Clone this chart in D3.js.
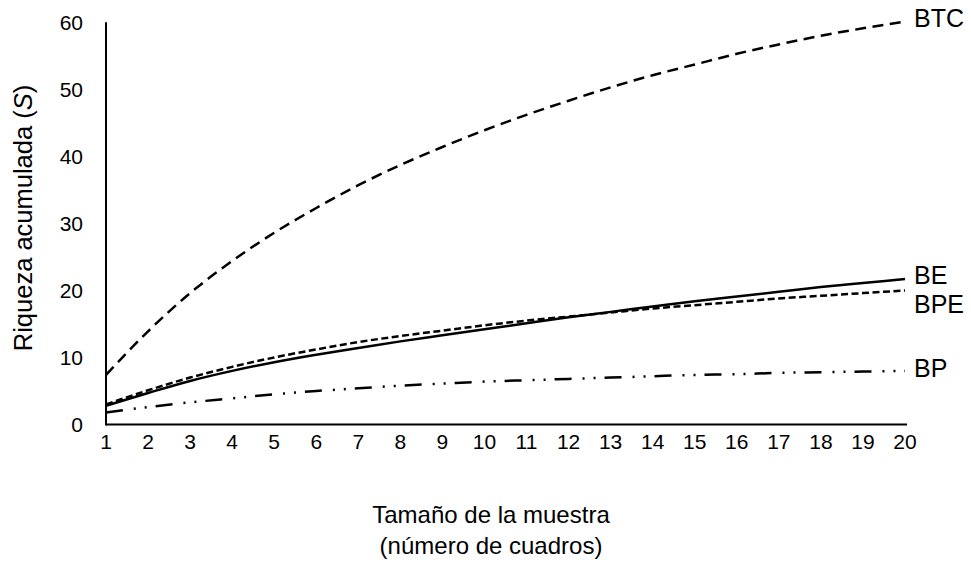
<!DOCTYPE html>
<html>
<head>
<meta charset="utf-8">
<script src="https://cdn.jsdelivr.net/npm/d3@7"></script>
<style>
  html, body { margin: 0; padding: 0; background: #fff; }
  svg { display: block; font-family: Arial, "Liberation Sans", sans-serif; }
</style>
</head>
<body>
<svg id="chart" width="971" height="562"></svg>
<script>
// Sample sizes (number of quadrats)
const sampleSizes = [1, 2, 3, 4, 5, 6, 7, 8, 9, 10, 11, 12, 13, 14, 15, 16, 17, 18, 19, 20];

// Accumulated richness per forest type
const btcValues = [7.4, 13.9, 19.6, 24.4, 28.6, 32.3, 35.7, 38.7, 41.4, 43.9, 46.2, 48.3, 50.3, 52.1, 53.7, 55.3, 56.7, 58.0, 59.1, 60.1];
const beValues  = [2.8, 4.7, 6.5, 8.0, 9.3, 10.4, 11.4, 12.4, 13.3, 14.2, 15.1, 16.0, 16.8, 17.6, 18.4, 19.1, 19.8, 20.5, 21.1, 21.7];
const bpeValues = [3.0, 5.1, 7.0, 8.6, 10.0, 11.2, 12.3, 13.2, 14.0, 14.8, 15.5, 16.1, 16.7, 17.3, 17.8, 18.3, 18.8, 19.2, 19.6, 20.0];
const bpValues  = [1.8, 2.6, 3.3, 3.9, 4.5, 5.0, 5.4, 5.8, 6.1, 6.4, 6.6, 6.8, 7.0, 7.2, 7.4, 7.5, 7.7, 7.8, 7.9, 8.0];

const seriesNames = ["BTC", "BE", "BPE", "BP"];
const yTicks = [0, 10, 20, 30, 40, 50, 60];

const svg = d3.select("#chart");

const x = d3.scaleLinear().domain([1, 20]).range([106, 905]);
const y = d3.scaleLinear().domain([0, 60]).range([424.5, 22.3]);

// line styles and label nudges for each series
const styles = {
  BTC: { values: btcValues, dash: "11,6.5", dy: -3.5 },
  BE:  { values: beValues,  dash: null,     dy: -4 },
  BPE: { values: bpeValues, dash: "7,3.5",  dy: 14 },
  BP:  { values: bpValues,  dash: "17,11,2,9,2,9", dy: -2.5 }
};

// axes: plain black lines
svg.append("line")
  .attr("x1", x(1)).attr("x2", x(20) + 2)
  .attr("y1", y(0)).attr("y2", y(0))
  .attr("stroke", "#000").attr("stroke-width", 2);
svg.append("line")
  .attr("x1", x(1)).attr("x2", x(1))
  .attr("y1", y(60)).attr("y2", y(0) + 1)
  .attr("stroke", "#000").attr("stroke-width", 2);

// y tick labels
svg.append("g").selectAll("text")
  .data(yTicks)
  .join("text")
  .attr("x", 83)
  .attr("y", d => y(d))
  .attr("dy", "0.36em")
  .attr("text-anchor", "end")
  .attr("font-size", 21)
  .attr("fill", "#000")
  .text(d => d);

// x tick labels
svg.append("g").selectAll("text")
  .data(sampleSizes)
  .join("text")
  .attr("x", d => x(d))
  .attr("y", 448.5)
  .attr("text-anchor", "middle")
  .attr("font-size", 21)
  .attr("fill", "#000")
  .text(d => d);

// curves
const line = d3.line()
  .x((d, i) => x(sampleSizes[i]))
  .y(d => y(d))
  .curve(d3.curveMonotoneX);

seriesNames.forEach(name => {
  const s = styles[name];
  svg.append("path")
    .datum(s.values)
    .attr("d", line)
    .attr("fill", "none")
    .attr("stroke", "#000")
    .attr("stroke-width", 2.5)
    .attr("stroke-dasharray", s.dash)
    .attr("stroke-linejoin", "round");

  svg.append("text")
    .attr("x", 914)
    .attr("y", y(s.values[s.values.length - 1]) + s.dy)
    .attr("dy", "0.36em")
    .attr("font-size", 25)
    .attr("fill", "#000")
    .text(name);
});

// axis titles
svg.append("text")
  .attr("transform", "translate(32,218) rotate(-90)")
  .attr("text-anchor", "middle")
  .attr("font-size", 25.5)
  .attr("fill", "#000")
  .call(t => {
    t.append("tspan").text("Riqueza acumulada (");
    t.append("tspan").attr("font-style", "italic").text("S");
    t.append("tspan").text(")");
  });

svg.append("text")
  .attr("x", 491).attr("y", 523)
  .attr("text-anchor", "middle")
  .attr("font-size", 24)
  .attr("fill", "#000")
  .text("Tamaño de la muestra");
svg.append("text")
  .attr("x", 491).attr("y", 554)
  .attr("text-anchor", "middle")
  .attr("font-size", 24)
  .attr("fill", "#000")
  .text("(número de cuadros)");
</script>
</body>
</html>
